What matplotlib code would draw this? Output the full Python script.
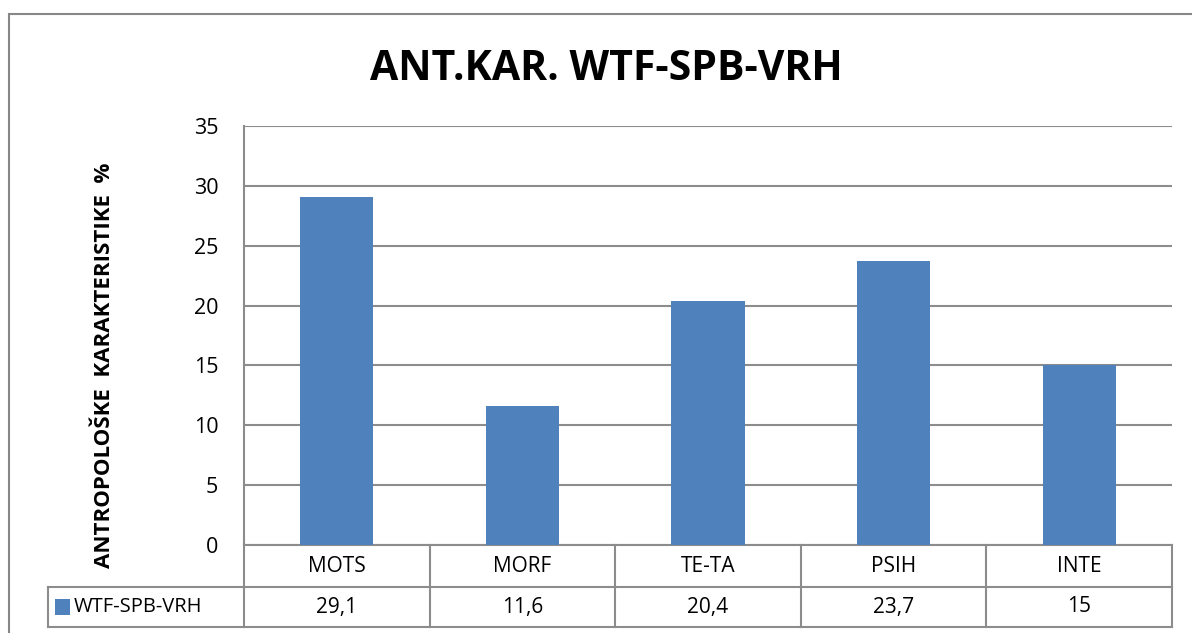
import matplotlib.pyplot as plt
from matplotlib.patches import Rectangle
import matplotlib.transforms as mtransforms

categories = ['MOTS', 'MORF', 'TE-TA', 'PSIH', 'INTE']
values = [29.1, 11.6, 20.4, 23.7, 15]
value_labels = ['29,1', '11,6', '20,4', '23,7', '15']
series_name = 'WTF-SPB-VRH'
yticks = [0, 5, 10, 15, 20, 25, 30, 35]

BAR = '#4F81BD'
GRID = '#8C8C8C'
plt.rcParams['font.family'] = ['Open Sans', 'DejaVu Sans']

W, H = 1192, 633
fig = plt.figure(figsize=(W / 100, H / 100), dpi=100)

# outer chart frame (runs off the right and bottom edges)
fig.patches.append(Rectangle((9 / W, -0.05), 1.1, 1 - 14 / H + 0.05,
                             transform=fig.transFigure, fill=False,
                             edgecolor='#878787', lw=1.5))

ax = fig.add_axes([244 / W, 1 - 545 / H, (1172 - 244) / W, (545 - 126) / H])
x = [i + 0.5 for i in range(len(categories))]
ax.bar(x, values, width=0.395, color=BAR, zorder=3)
ax.set_xlim(0, len(categories))
ax.set_ylim(0, 35)
ax.set_yticks(yticks)
ax.set_yticklabels([str(t) for t in yticks], fontsize=15.5)
ax.tick_params(axis='y', length=0, pad=18.5)
ax.set_xticks([])
ax.yaxis.grid(True, color=GRID, lw=1.5, zorder=0)
for s in ['top', 'right', 'bottom']:
    ax.spines[s].set_visible(False)
ax.spines['left'].set_color(GRID)
ax.spines['left'].set_linewidth(1.5)

# data table below the plot
tr = mtransforms.blended_transform_factory(ax.transData, ax.transAxes)
px = 1 / 419
ux = len(categories) / 928  # data units per pixel
r1 = -42 * px
r2 = -82 * px
leg_x = (48 - 244) * ux
n = len(categories)
kw = dict(color=GRID, lw=1.5, transform=tr, clip_on=False)
ax.plot([0, n], [0, 0], **kw)
ax.plot([leg_x, n], [r1, r1], **kw)
ax.plot([leg_x, n], [r2, r2], **kw)
ax.plot([leg_x, leg_x], [r1, r2], **kw)
for i in range(n + 1):
    ax.plot([i, i], [0, r2], **kw)

for i, (c, v) in enumerate(zip(categories, value_labels)):
    ax.text(i + 0.5, r1 / 2, c, ha='center', va='center', fontsize=15,
            transform=tr, clip_on=False)
    ax.text(i + 0.5, (r1 + r2) / 2, v, ha='center', va='center', fontsize=15,
            transform=tr, clip_on=False)

ax.add_patch(Rectangle((leg_x + 7 * ux, (r1 + r2) / 2 - 8 * px), 15 * ux, 16 * px,
                       facecolor=BAR, transform=tr, clip_on=False))
ax.text(leg_x + 26 * ux, (r1 + r2) / 2, series_name, ha='left', va='center',
        fontsize=14.5, transform=tr, clip_on=False)

fig.text(606 / W, 1 - 70 / H, 'ANT.KAR. WTF-SPB-VRH', ha='center', va='center',
         fontsize=29.5, fontweight='bold')
fig.text(105 / W, 1 - 365 / H, 'ANTROPOLOŠKE  KARAKTERISTIKE  %', rotation=90,
         ha='center', va='center', fontsize=16, fontweight='bold')

fig.savefig('out.png', dpi=100)
